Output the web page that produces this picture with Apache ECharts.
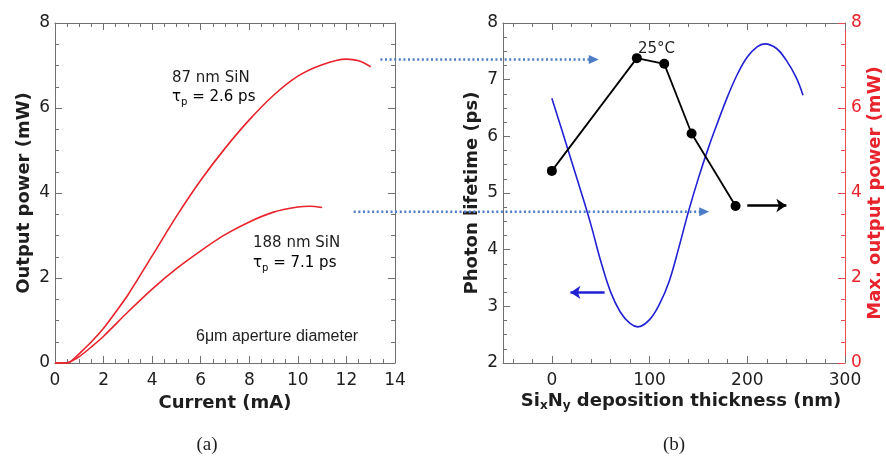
<!DOCTYPE html>
<html>
<head>
<meta charset="utf-8">
<script src="https://cdn.jsdelivr.net/npm/echarts@6/dist/echarts.min.js"></script>
<style>
  html, body { margin: 0; padding: 0; background: #fff; }
  #chart { width: 886px; height: 456px; }
</style>
</head>
<body>
<div id="chart"></div>
<script>
// (a) output power vs current, two SiN thicknesses
const current87 = [0, 0.5, 0.7, 1, 1.5, 2, 2.5, 3, 4, 5, 6, 7, 8, 9, 10, 11, 12, 12.5, 13];
const power87 = [0, 0, 0.06, 0.22, 0.5, 0.82, 1.2, 1.6, 2.52, 3.45, 4.3, 5.05, 5.72, 6.3, 6.75, 7.02, 7.15, 7.11, 6.97];
const current188 = [0, 0.45, 0.7, 1, 1.5, 2, 3, 4, 5, 6, 7, 8, 9, 10, 10.5, 11];
const power188 = [0, 0, 0.05, 0.15, 0.38, 0.63, 1.2, 1.74, 2.22, 2.64, 3.02, 3.32, 3.55, 3.67, 3.69, 3.66];

// (b) photon lifetime and max. output power vs deposition thickness
const thicknessNm = [0, 87, 115, 143, 188];
const lifetimePs = [5.39, 7.38, 7.28, 6.05, 4.77];
const sweepNm = [0, 10, 20, 30, 40, 50, 60, 70, 80, 88, 100, 110, 120, 130, 140, 150, 160, 170, 180, 190, 200, 210, 218, 230, 240, 250, 257];
const maxPowerMW = [6.23, 5.5, 4.76, 4.02, 3.25, 2.4, 1.68, 1.2, 0.93, 0.85, 1.02, 1.38, 1.92, 2.72, 3.58, 4.35, 5.05, 5.68, 6.28, 6.8, 7.2, 7.44, 7.51, 7.4, 7.12, 6.72, 6.3];

// axis ranges and ticks
const currentTicks = [0, 14, 2];
const powerTicks = [0, 8, 2];
const thicknessRange = [-50, 300];
const thicknessLabels = [0, 100, 200, 300];
const thicknessMinor = [-40, -20, 20, 40, 60, 80, 120, 140, 160, 180, 220, 240, 260, 280];
const lifetimeTicks = [2, 8, 1];

// arrows telling which axis a curve belongs to
const lifetimeArrow = [[200, 4.78], [240, 4.78]];
const powerArrow = [[54, 1.66], [19, 1.66]];
// dotted arrows from the peak of each L-I curve to panel (b)
const peakArrows = [
  {from: [13.4, 7.14], to: [48, 7.14]},
  {from: [12.3, 3.56], to: [161, 3.56]},
];

const GRAY = '#707070';
const TEXT = '#1e1e1e';
const RED = '#e8232b';
const BLUE = '#2121d4';
const FONT = 'DejaVu Sans';

const chart = echarts.init(document.getElementById('chart'));

function pairs(xs, ys) {
  return xs.map((x, i) => [x, ys[i]]);
}

function frameAxis(extra) {
  return Object.assign({
    type: 'value',
    axisLine: {show: true, onZero: false, lineStyle: {color: GRAY, width: 1}},
    axisTick: {show: true, inside: true, length: 7, lineStyle: {color: GRAY, width: 1}},
    minorTick: {show: true, splitNumber: 4, length: 4, lineStyle: {color: GRAY, width: 1}},
    axisLabel: {show: true, color: TEXT, fontFamily: FONT, fontSize: 17, margin: 9},
    splitLine: {show: false},
    nameMoveOverlap: false,
  }, extra);
}

const bold = {fontFamily: FONT, fontSize: 18, fontWeight: 'bold', color: TEXT};

const option = {
  animation: false,
  grid: [
    {left: 55, top: 23, width: 340, height: 340, outerBoundsMode: 'none'},
    {left: 503, top: 23, width: 342, height: 340, outerBoundsMode: 'none'},
  ],
  xAxis: [
    frameAxis({
      gridIndex: 0, position: 'bottom', min: currentTicks[0], max: currentTicks[1], interval: currentTicks[2],
      name: 'Current (mA)', nameLocation: 'middle', nameGap: 31, nameTextStyle: bold,
    }),
    frameAxis({
      gridIndex: 0, position: 'top', min: currentTicks[0], max: currentTicks[1], interval: currentTicks[2],
      axisLabel: {show: false},
    }),
    frameAxis({
      gridIndex: 1, position: 'bottom', min: thicknessRange[0], max: thicknessRange[1],
      axisTick: {show: true, inside: true, length: 7, customValues: thicknessLabels, lineStyle: {color: GRAY}},
      axisLabel: {show: true, color: TEXT, fontFamily: FONT, fontSize: 17, margin: 9, customValues: thicknessLabels},
      minorTick: {show: false},
      name: '{b|Si}{s|x}{b|N}{s|y}{b| deposition thickness (nm)}',
      nameLocation: 'middle', nameGap: 27,
      nameTextStyle: {
        padding: [0, 0, 0, 14],
        rich: {
          b: {fontFamily: FONT, fontSize: 18, fontWeight: 'bold', color: TEXT, lineHeight: 22},
          s: {fontFamily: FONT, fontSize: 12, fontWeight: 'bold', color: TEXT, lineHeight: 12, verticalAlign: 'bottom'},
        },
      },
    }),
    frameAxis({
      gridIndex: 1, position: 'bottom', min: thicknessRange[0], max: thicknessRange[1],
      axisLine: {show: false, onZero: false},
      axisTick: {show: true, inside: true, length: 4, customValues: thicknessMinor, lineStyle: {color: GRAY}},
      axisLabel: {show: false}, minorTick: {show: false},
    }),
    frameAxis({
      gridIndex: 1, position: 'top', min: thicknessRange[0], max: thicknessRange[1],
      axisTick: {show: true, inside: true, length: 7, customValues: thicknessLabels, lineStyle: {color: GRAY}},
      axisLabel: {show: false}, minorTick: {show: false},
    }),
    frameAxis({
      gridIndex: 1, position: 'top', min: thicknessRange[0], max: thicknessRange[1],
      axisLine: {show: false, onZero: false},
      axisTick: {show: true, inside: true, length: 4, customValues: thicknessMinor, lineStyle: {color: GRAY}},
      axisLabel: {show: false}, minorTick: {show: false},
    }),
  ],
  yAxis: [
    frameAxis({
      gridIndex: 0, position: 'left', min: powerTicks[0], max: powerTicks[1], interval: powerTicks[2],
      axisLabel: {show: true, color: TEXT, fontFamily: FONT, fontSize: 17, margin: 5},
      name: 'Output power (mW)', nameLocation: 'middle', nameGap: 22, nameTextStyle: bold,
    }),
    frameAxis({
      gridIndex: 0, position: 'right', min: powerTicks[0], max: powerTicks[1], interval: powerTicks[2],
      axisLabel: {show: false},
    }),
    frameAxis({
      gridIndex: 1, position: 'left', min: lifetimeTicks[0], max: lifetimeTicks[1], interval: lifetimeTicks[2],
      axisLabel: {show: true, color: TEXT, fontFamily: FONT, fontSize: 17, margin: 5},
      name: 'Photon lifetime (ps)', nameLocation: 'middle', nameGap: 22, nameTextStyle: bold,
    }),
    frameAxis({
      gridIndex: 1, position: 'right', min: powerTicks[0], max: powerTicks[1], interval: powerTicks[2],
      axisLine: {show: true, onZero: false, lineStyle: {color: '#e84a50', width: 1}},
      axisTick: {show: true, inside: true, length: 7, lineStyle: {color: '#e84a50', width: 1}},
      minorTick: {show: true, splitNumber: 4, length: 4, lineStyle: {color: '#e84a50', width: 1}},
      axisLabel: {show: true, color: RED, fontFamily: FONT, fontSize: 17, margin: 6},
      name: 'Max. output power (mW)', nameLocation: 'middle', nameGap: 21,
      nameTextStyle: {fontFamily: FONT, fontSize: 18, fontWeight: 'bold', color: RED},
    }),
  ],
  series: [
    {
      name: '87 nm SiN', type: 'line', xAxisIndex: 0, yAxisIndex: 0,
      data: pairs(current87, power87), showSymbol: false, smooth: 0.3,
      lineStyle: {color: RED, width: 1.6}, silent: true,
    },
    {
      name: '188 nm SiN', type: 'line', xAxisIndex: 0, yAxisIndex: 0,
      data: pairs(current188, power188), showSymbol: false, smooth: 0.3,
      lineStyle: {color: RED, width: 1.6}, silent: true,
    },
    {
      name: 'Max. output power', type: 'line', xAxisIndex: 2, yAxisIndex: 3,
      data: pairs(sweepNm, maxPowerMW), showSymbol: false, smooth: 0.4,
      lineStyle: {color: BLUE, width: 1.6}, silent: true,
      markLine: {
        silent: true, symbol: ['none', 'arrow'], symbolSize: 10,
        label: {show: false},
        lineStyle: {color: BLUE, width: 2.5, type: 'solid'},
        data: [[{coord: powerArrow[0]}, {coord: powerArrow[1]}]],
      },
    },
    {
      name: 'Photon lifetime', type: 'line', xAxisIndex: 2, yAxisIndex: 2,
      data: pairs(thicknessNm, lifetimePs), symbol: 'circle', symbolSize: 10,
      itemStyle: {color: '#000'}, lineStyle: {color: '#000', width: 1.8}, silent: true,
      markLine: {
        silent: true, symbol: ['none', 'arrow'], symbolSize: 10,
        label: {show: false},
        lineStyle: {color: '#000', width: 2.5, type: 'solid'},
        data: [[{coord: lifetimeArrow[0]}, {coord: lifetimeArrow[1]}]],
      },
    },
  ],
};

chart.setOption(option);

// text annotations
const ann = {fontFamily: FONT, fontSize: 15, fill: TEXT};
const sub = {
  t: {fontFamily: FONT, fontSize: 15, color: TEXT, lineHeight: 20},
  s: {fontFamily: FONT, fontSize: 10, color: TEXT, lineHeight: 10, verticalAlign: 'bottom'},
};
function label(x, y, text, style) {
  return {type: 'text', x, y, silent: true,
    style: Object.assign({text, textAlign: 'left', textVerticalAlign: 'middle', align: 'left', verticalAlign: 'middle'}, style)};
}
function caption(x, y, text) {
  return {type: 'text', x, y, silent: true,
    style: {text, fontFamily: 'Liberation Serif', fontSize: 19, fill: TEXT,
      textAlign: 'center', textVerticalAlign: 'middle', align: 'center', verticalAlign: 'middle'}};
}
const graphics = [
  label(172, 78, '87 nm SiN', ann),
  label(172, 97, '{t|τ}{s|p}{t| = 2.6 ps}', {rich: sub}),
  label(253, 243, '188 nm SiN', ann),
  label(253, 263, '{t|τ}{s|p}{t| = 7.1 ps}', {rich: sub}),
  label(196, 337, '6μm aperture diameter', {fontFamily: 'Liberation Sans', fontSize: 16, fill: TEXT}),
  label(638, 49, '25°C', ann),
  caption(207, 445, '(a)'),
  caption(674, 445, '(b)'),
];

// dotted connectors, placed through the axes of both panels
peakArrows.forEach((a) => {
  const p0 = chart.convertToPixel({xAxisIndex: 0, yAxisIndex: 0}, a.from);
  const p1 = chart.convertToPixel({xAxisIndex: 2, yAxisIndex: 3}, a.to);
  graphics.push({
    type: 'line', silent: true, z: 10,
    shape: {x1: p0[0], y1: p0[1], x2: p1[0] - 8, y2: p1[1]},
    style: {stroke: '#4d7cc6', lineWidth: 2.5, lineDash: [2, 2.6]},
  });
  graphics.push({
    type: 'polygon', silent: true, z: 10,
    shape: {points: [[p1[0], p1[1]], [p1[0] - 10, p1[1] - 4.5], [p1[0] - 10, p1[1] + 4.5]]},
    style: {fill: '#4d7cc6'},
  });
});

chart.setOption({graphic: graphics});
</script>
</body>
</html>
